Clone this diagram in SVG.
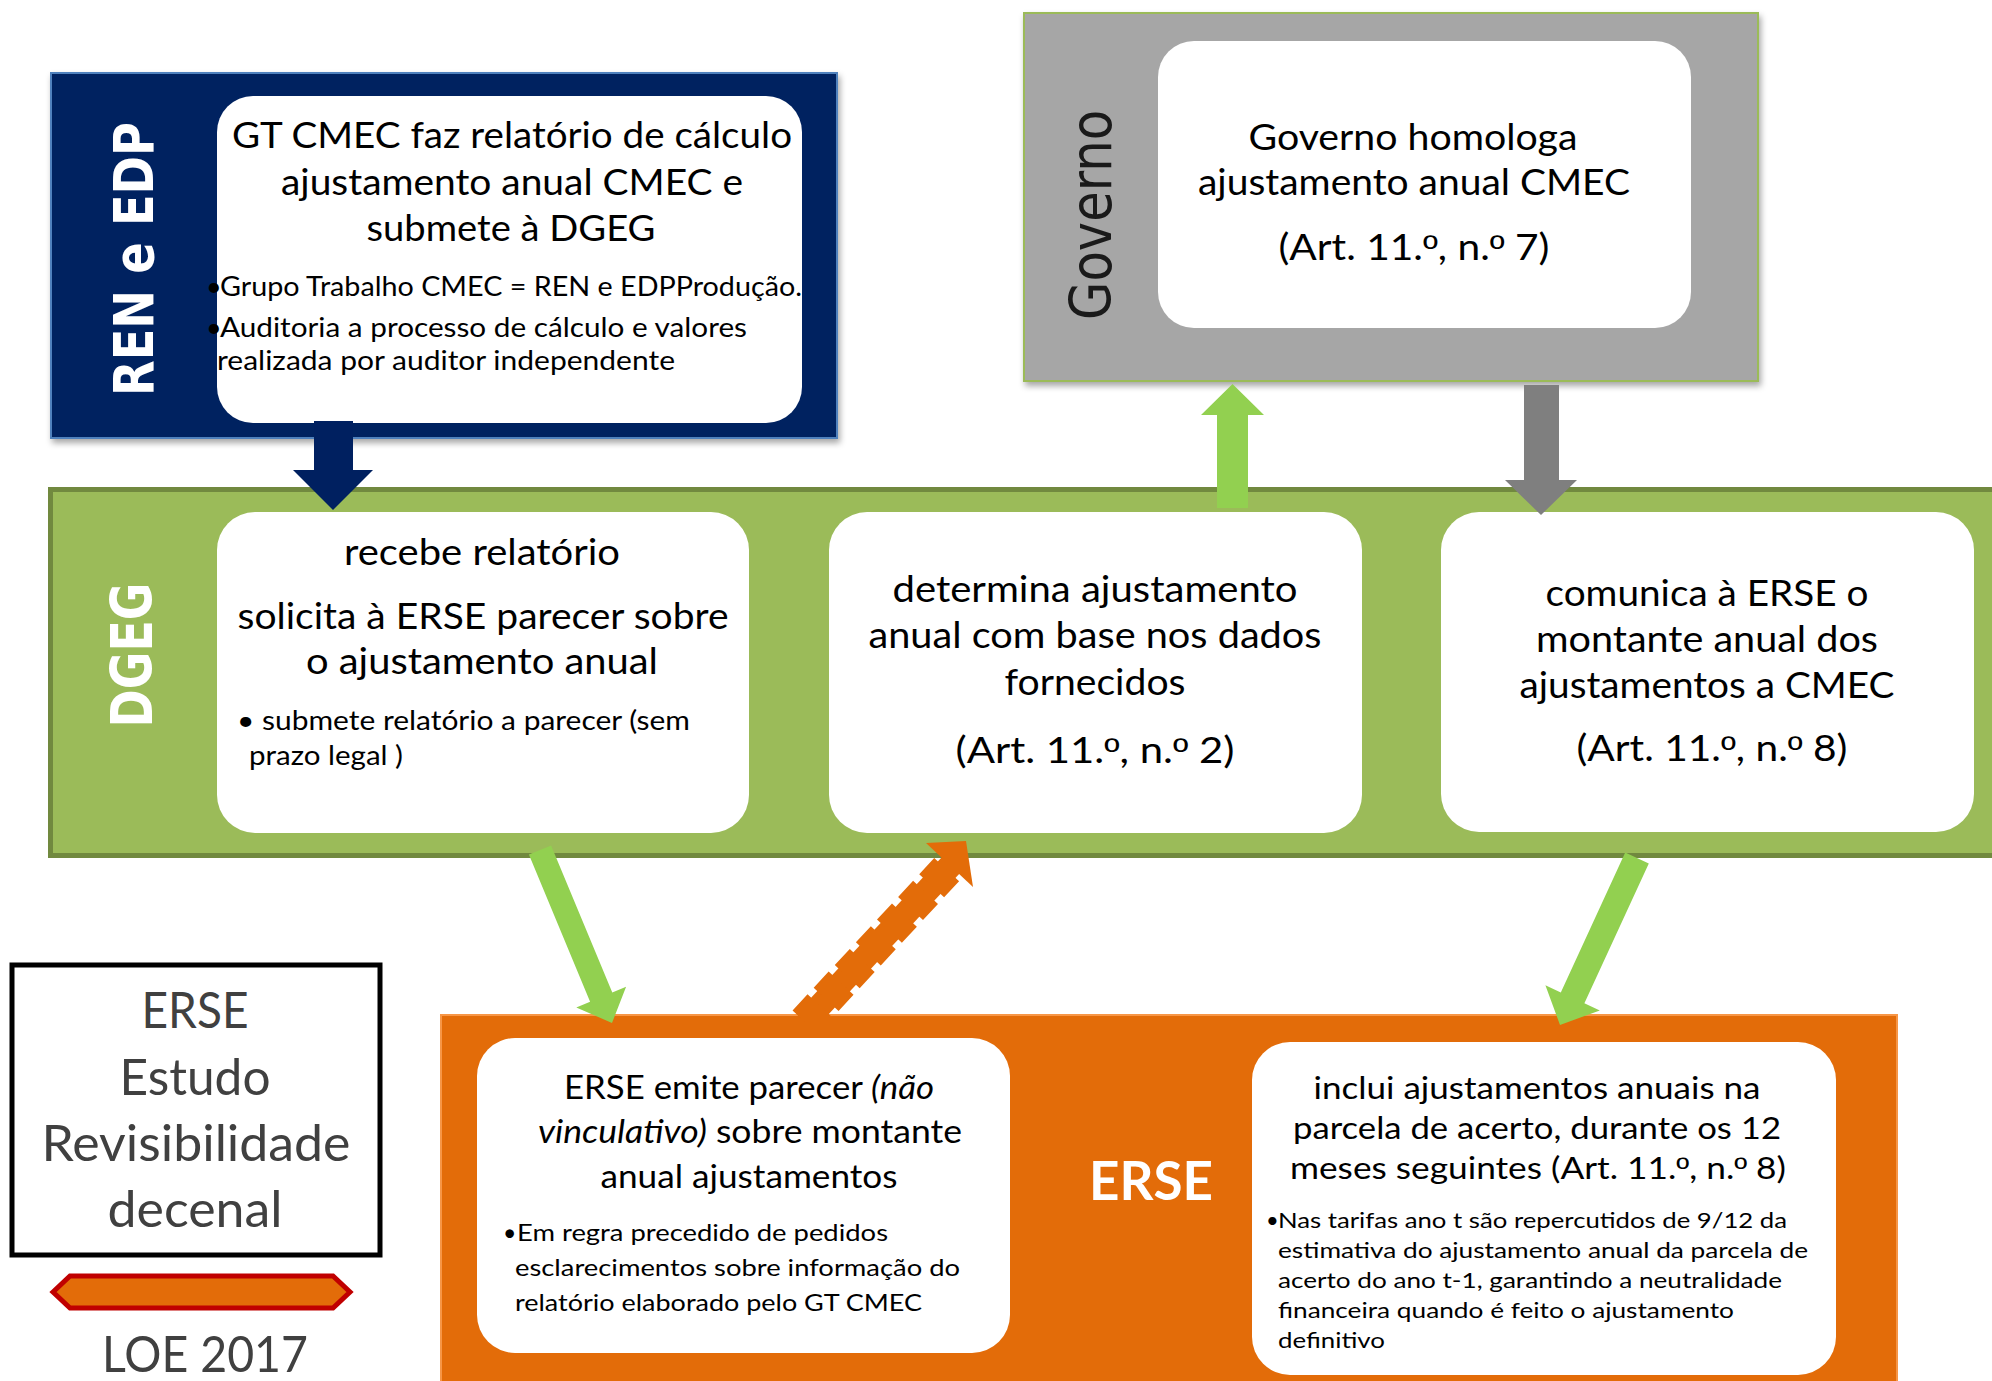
<svg xmlns="http://www.w3.org/2000/svg" width="1992" height="1381" viewBox="0 0 1992 1381">
<defs>
<style>
.t{font-family:Lato,"Open Sans","Liberation Sans",sans-serif;fill:#000}
.c{text-anchor:middle}
.m36{font-size:36px}
.m32{font-size:32px}
.m30{font-size:30px}
.b27{font-size:27px}
.b23{font-size:23px}
.b22{font-size:22px}
.o{font-family:"Liberation Sans",Arial,sans-serif}
.lbl{font-family:"DejaVu Sans",Verdana,sans-serif;font-weight:bold;fill:#fff;text-anchor:middle}
.wbox{fill:#fff}
.grey{font-family:Lato,"Open Sans","Liberation Sans",sans-serif;fill:#404040;font-size:50px;text-anchor:middle}
</style>
<filter id="sh" x="-5%" y="-5%" width="110%" height="115%">
<feDropShadow dx="2" dy="4" stdDeviation="3" flood-color="#000" flood-opacity="0.35"/>
</filter>
</defs>
<rect width="1992" height="1381" fill="#fff"/>

<!-- DGEG band -->
<g id="dgeg">
<rect x="50.5" y="489.5" width="1980" height="366" fill="#9bbb59" stroke="#71893f" stroke-width="5"/>
<text class="lbl" transform="translate(152,655) rotate(-90)" font-size="57" textLength="145" lengthAdjust="spacingAndGlyphs">DGEG</text>
</g>

<!-- REN e EDP -->
<g id="ren-edp">
<rect x="51" y="73" width="786" height="365" fill="#002060" stroke="#4f81bd" stroke-width="2" filter="url(#sh)"/>
<text class="lbl" transform="translate(153,259) rotate(-90)" font-size="56" textLength="274" lengthAdjust="spacingAndGlyphs">REN e EDP</text>
<rect class="wbox" x="217" y="96" width="585" height="327" rx="36" ry="36"/>
<text class="t c m36" x="512" y="148" textLength="560" lengthAdjust="spacingAndGlyphs">GT CMEC faz relatório de cálculo</text>
<text class="t c m36" x="512" y="195" textLength="462" lengthAdjust="spacingAndGlyphs">ajustamento anual CMEC e</text>
<text class="t c m36" x="511" y="241" textLength="289" lengthAdjust="spacingAndGlyphs">submete à DGEG</text>
<text class="t b27" x="206" y="296">•</text>
<text class="t b27" x="220" y="296" textLength="582" lengthAdjust="spacingAndGlyphs">Grupo Trabalho CMEC = REN e EDPProdução.</text>
<text class="t b27" x="206" y="337">•</text>
<text class="t b27" x="220" y="337" textLength="527" lengthAdjust="spacingAndGlyphs">Auditoria a processo de cálculo e valores</text>
<text class="t b27" x="217" y="370" textLength="458" lengthAdjust="spacingAndGlyphs">realizada por auditor independente</text>
</g>

<!-- Governo -->
<g id="governo">
<rect x="1024" y="13" width="734" height="368" fill="#a6a6a6" stroke="#9bbb59" stroke-width="2" filter="url(#sh)"/>
<text transform="translate(1111,215) rotate(-90)" font-family="'DejaVu Sans',Verdana,sans-serif" font-size="57" fill="#1a1a1a" text-anchor="middle" textLength="210" lengthAdjust="spacingAndGlyphs">Governo</text>
<rect class="wbox" x="1158" y="41" width="533" height="287" rx="36" ry="36"/>
<text class="t c m36" x="1413" y="150" textLength="329" lengthAdjust="spacingAndGlyphs">Governo homologa</text>
<text class="t c m36" x="1414" y="195" textLength="432" lengthAdjust="spacingAndGlyphs">ajustamento anual CMEC</text>
<text class="t c m36" x="1414" y="260" textLength="271" lengthAdjust="spacingAndGlyphs">(Art. 11.<tspan class="o">º</tspan>, n.<tspan class="o">º</tspan> 7)</text>
</g>

<!-- DGEG boxes -->
<g id="dgeg-recebe">
<rect class="wbox" x="217" y="512" width="532" height="321" rx="38" ry="38"/>
<text class="t c m36" x="482" y="565" textLength="276" lengthAdjust="spacingAndGlyphs">recebe relatório</text>
<text class="t c m36" x="483" y="629" textLength="491" lengthAdjust="spacingAndGlyphs">solicita à ERSE parecer sobre</text>
<text class="t c m36" x="482" y="674" textLength="352" lengthAdjust="spacingAndGlyphs">o ajustamento anual</text>
<text class="t b27" x="237" y="730" textLength="453" lengthAdjust="spacingAndGlyphs">• submete relatório a parecer (sem</text>
<text class="t b27" x="249" y="765" textLength="154" lengthAdjust="spacingAndGlyphs">prazo legal )</text>
</g>

<g id="dgeg-determina">
<rect class="wbox" x="829" y="512" width="533" height="321" rx="38" ry="38"/>
<text class="t c m36" x="1095" y="602" textLength="405" lengthAdjust="spacingAndGlyphs">determina ajustamento</text>
<text class="t c m36" x="1095" y="648" textLength="453" lengthAdjust="spacingAndGlyphs">anual com base nos dados</text>
<text class="t c m36" x="1095" y="695" textLength="181" lengthAdjust="spacingAndGlyphs">fornecidos</text>
<text class="t c m36" x="1095" y="763" textLength="279" lengthAdjust="spacingAndGlyphs">(Art. 11.<tspan class="o">º</tspan>, n.<tspan class="o">º</tspan> 2)</text>
</g>

<g id="dgeg-comunica">
<rect class="wbox" x="1441" y="512" width="533" height="320" rx="38" ry="38"/>
<text class="t c m36" x="1707" y="606" textLength="323" lengthAdjust="spacingAndGlyphs">comunica à ERSE o</text>
<text class="t c m36" x="1707" y="652" textLength="342" lengthAdjust="spacingAndGlyphs">montante anual dos</text>
<text class="t c m36" x="1707" y="698" textLength="375" lengthAdjust="spacingAndGlyphs">ajustamentos a CMEC</text>
<text class="t c m36" x="1712" y="761" textLength="271" lengthAdjust="spacingAndGlyphs">(Art. 11.<tspan class="o">º</tspan>, n.<tspan class="o">º</tspan> 8)</text>
</g>

<!-- ERSE -->
<g id="erse">
<rect x="441" y="1015" width="1456" height="400" fill="#e36c09" stroke="#f79646" stroke-width="2"/>
<text class="lbl" x="1151" y="1200" font-size="54" textLength="124" lengthAdjust="spacingAndGlyphs" style="font-family:Lato,'Liberation Sans',sans-serif">ERSE</text>
</g>

<g id="erse-parecer">
<rect class="wbox" x="477" y="1038" width="533" height="315" rx="38" ry="38"/>
<text class="t c m32" x="749" y="1099" textLength="370" lengthAdjust="spacingAndGlyphs">ERSE emite parecer <tspan font-style="italic">(não</tspan></text>
<text class="t c m32" x="750" y="1143" textLength="424" lengthAdjust="spacingAndGlyphs"><tspan font-style="italic">vinculativo)</tspan> sobre montante</text>
<text class="t c m32" x="749" y="1188" textLength="297" lengthAdjust="spacingAndGlyphs">anual ajustamentos</text>
<text class="t b23" x="503" y="1241">•</text>
<text class="t b23" x="517" y="1241" textLength="371" lengthAdjust="spacingAndGlyphs">Em regra precedido de pedidos</text>
<text class="t b23" x="515" y="1276" textLength="445" lengthAdjust="spacingAndGlyphs">esclarecimentos sobre informação do</text>
<text class="t b23" x="515" y="1311" textLength="407" lengthAdjust="spacingAndGlyphs">relatório elaborado pelo GT CMEC</text>
</g>

<g id="erse-inclui">
<rect class="wbox" x="1252" y="1042" width="584" height="333" rx="38" ry="38"/>
<text class="t c m30" x="1537" y="1099" textLength="447" lengthAdjust="spacingAndGlyphs">inclui ajustamentos anuais na</text>
<text class="t c m30" x="1537" y="1139" textLength="488" lengthAdjust="spacingAndGlyphs">parcela de acerto, durante os 12</text>
<text class="t c m30" x="1538" y="1179" textLength="496" lengthAdjust="spacingAndGlyphs">meses seguintes (Art. 11.<tspan class="o">º</tspan>, n.<tspan class="o">º</tspan> 8)</text>
<text class="t b22" x="1266" y="1228">•</text>
<text class="t b22" x="1278" y="1228" textLength="509" lengthAdjust="spacingAndGlyphs">Nas tarifas ano t são repercutidos de 9/12 da</text>
<text class="t b22" x="1278" y="1258" textLength="530" lengthAdjust="spacingAndGlyphs">estimativa do ajustamento anual da parcela de</text>
<text class="t b22" x="1278" y="1288" textLength="504" lengthAdjust="spacingAndGlyphs">acerto do ano t-1, garantindo a neutralidade</text>
<text class="t b22" x="1278" y="1318" textLength="456" lengthAdjust="spacingAndGlyphs">financeira quando é feito o ajustamento</text>
<text class="t b22" x="1278" y="1348" textLength="107" lengthAdjust="spacingAndGlyphs">definitivo</text>
</g>

<!-- Left legend -->
<g id="legend-estudo">
<rect x="12" y="965" width="368" height="290" fill="#fff" stroke="#000" stroke-width="5"/>
<text class="grey" x="195" y="1028" textLength="107" lengthAdjust="spacingAndGlyphs">ERSE</text>
<text class="grey" x="195" y="1095" textLength="151" lengthAdjust="spacingAndGlyphs">Estudo</text>
<text class="grey" x="196" y="1161" textLength="309" lengthAdjust="spacingAndGlyphs">Revisibilidade</text>
<text class="grey" x="195" y="1227" textLength="175" lengthAdjust="spacingAndGlyphs">decenal</text>
</g>
<g id="legend-loe">
<polygon points="53,1292 70,1276 333,1276 350,1292 333,1308 70,1308" fill="#e36c09" stroke="#c00000" stroke-width="5"/>
<text class="grey" x="205" y="1372" textLength="206" lengthAdjust="spacingAndGlyphs">LOE 2017</text>
</g>

<!-- Connectors -->
<g id="connectors">
<polygon points="314,421 353,421 353,470 373,470 333,510 293,470 314,470" fill="#002060"/>
<polygon points="1217,508 1248,508 1248,415 1264,415 1232.5,384 1201,415 1217,415" fill="#92d050"/>
<polygon points="1524,385 1559,385 1559,480 1577,480 1541,515 1505,480 1524,480" fill="#7f7f7f"/>
<polygon points="551.1,845.4 612.3,992.5 626.1,986.8 612,1023 576.3,1007.4 590.1,1001.7 528.9,854.6" fill="#92d050"/>
<polygon points="1648.8,863.4 1584.4,1003.2 1599.8,1010.4 1560,1025 1545.4,985.2 1560.8,992.4 1625.2,852.6" fill="#92d050"/>
<g id="orange-arrow">
<line x1="805" y1="1022" x2="951" y2="865" stroke="#e36c09" stroke-width="24"/>
<line x1="805" y1="1022" x2="951" y2="865" stroke="#e36c09" stroke-width="34" stroke-dasharray="22 9"/>
<polygon points="966,841 926,843 973,887" fill="#e36c09"/>
</g>
</g>
</svg>
